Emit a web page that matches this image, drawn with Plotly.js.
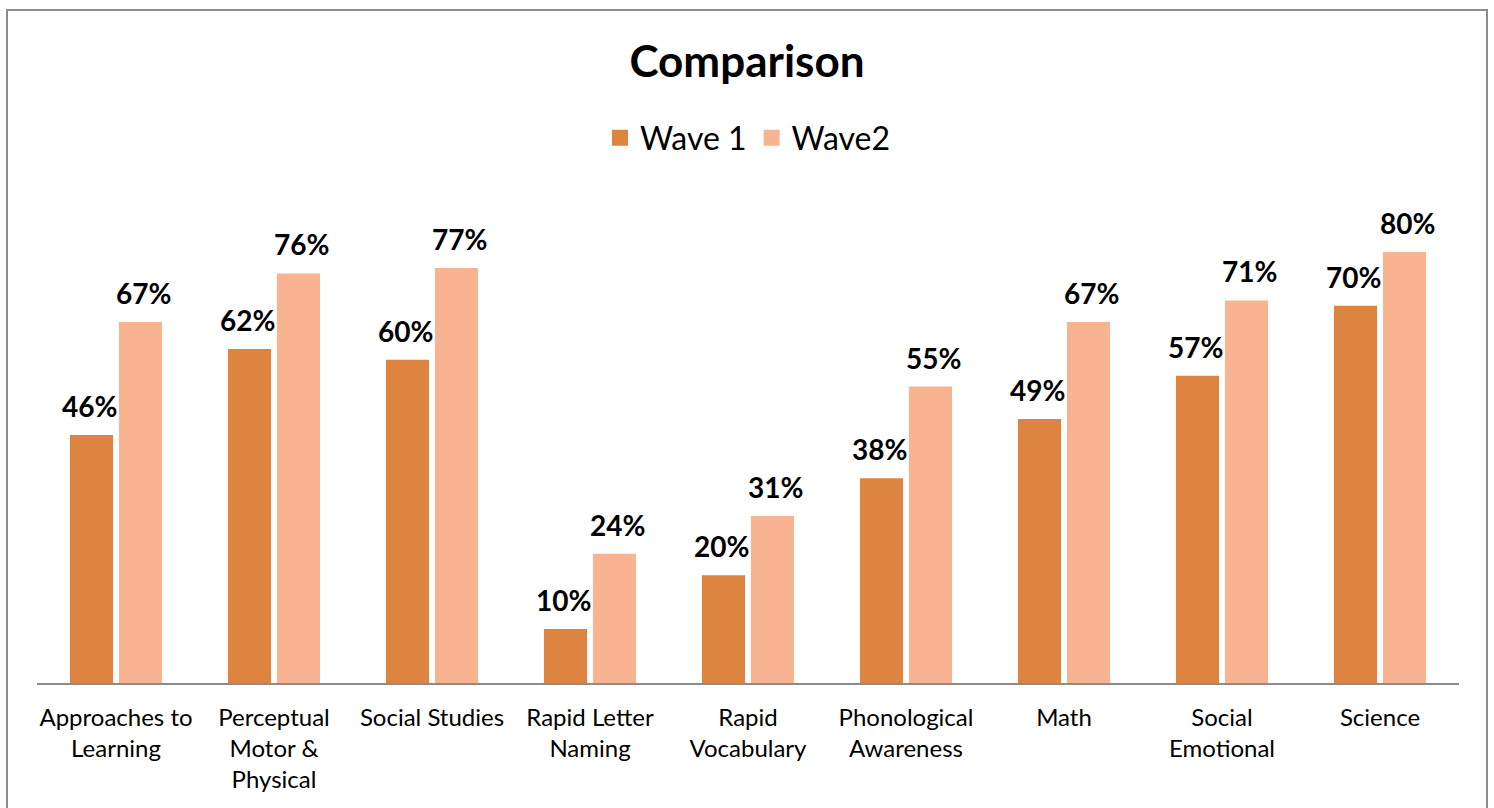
<!DOCTYPE html>
<html>
<head>
<meta charset="utf-8">
<script src="https://cdn.plot.ly/plotly-3.0.1.min.js"></script>
<style>
html,body{margin:0;padding:0;background:#fff;overflow:hidden;}
#frame{position:absolute;left:6px;top:9px;width:1478px;height:830px;border:2px solid #8c8c8c;border-bottom:none;}
#chart{position:absolute;left:0;top:0;width:1494px;height:808px;}
</style>
</head>
<body>
<div id="frame"></div>
<div id="chart"></div>
<script>
const categories = ["Approaches to<br>Learning", "Perceptual<br>Motor &<br>Physical", "Social Studies", "Rapid Letter<br>Naming", "Rapid<br>Vocabulary", "Phonological<br>Awareness", "Math", "Social<br>Emotional", "Science"];
const wave1 = [0.46, 0.62, 0.60, 0.10, 0.20, 0.38, 0.49, 0.57, 0.70];
const wave2 = [0.67, 0.76, 0.77, 0.24, 0.31, 0.55, 0.67, 0.71, 0.80];
const seriesNames = ["Wave 1", "Wave2"];
const colors = ["#DC8440", "#F8B490"];

const font = "Lato, 'Open Sans', sans-serif";
const mk = (vals, i) => ({
  type: 'bar', x: categories, y: vals, name: seriesNames[i],
  marker: {color: colors[i]}, showlegend: false, hoverinfo: 'none'
});
const leg = (i) => ({
  type: 'scatter', mode: 'markers', x: [null], y: [null], name: seriesNames[i],
  marker: {symbol: 'square', size: 20, color: colors[i]}, hoverinfo: 'none'
});
const data = [mk(wave1, 0), mk(wave2, 1), leg(0), leg(1)];

const annotations = [];
[wave1, wave2].forEach((vals, s) => {
  vals.forEach((v, k) => {
    annotations.push({
      x: categories[k], y: v, xref: 'x', yref: 'y',
      text: '<b>' + Math.round(v * 100) + '%</b>', showarrow: false,
      xanchor: 'center', yanchor: 'bottom', xshift: s === 0 ? -27 : 27, yshift: 10,
      font: {family: font, size: 28, color: '#000'}
    });
  });
});

const layout = {
  width: 1494, height: 808,
  paper_bgcolor: 'rgba(0,0,0,0)', plot_bgcolor: 'rgba(0,0,0,0)',
  margin: {l: 37, r: 35, t: 198, b: 125},
  title: {text: '<b>Comparison</b>', x: 0.5, xanchor: 'center', y: 1 - 62/808, yanchor: 'middle', yref: 'container',
          font: {family: font, size: 44, color: '#000'}},
  showlegend: true,
  legend: {orientation: 'h', x: 0.5, xanchor: 'center', y: 1 - 138/808, yref: 'container', yanchor: 'middle',
           font: {family: font, size: 32, color: '#000'}, traceorder: 'normal', itemclick: false},
  barmode: 'group', bargap: 0.38, bargroupgap: 0.12,
  xaxis: {showline: true, linecolor: '#8c8c8c', linewidth: 2, ticks: 'outside', ticklen: 12, tickcolor: 'rgba(0,0,0,0)',
          showgrid: false, tickfont: {family: font, size: 24, color: '#000'}, automargin: false, fixedrange: true},
  yaxis: {range: [0, 0.9], visible: false, showgrid: false, zeroline: false, fixedrange: true},
  annotations: annotations
};
Plotly.newPlot('chart', data, layout, {displayModeBar: false, staticPlot: true});
</script>
</body>
</html>
